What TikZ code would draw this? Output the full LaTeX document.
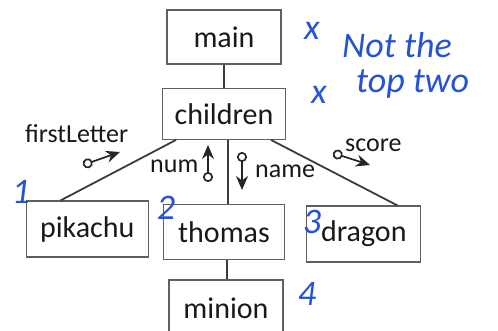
\documentclass[tikz,border=0pt]{standalone}
\usepackage{fontspec}
\setmainfont{Carlito}
\usepackage{tikz}
\usetikzlibrary{positioning}
\usetikzlibrary{arrows.meta}
\definecolor{ink}{RGB}{38,82,214}
\definecolor{edgegray}{RGB}{60,60,60}
\definecolor{boxgray}{RGB}{95,95,95}

\tikzset{
  obj/.style={draw=boxgray,line width=1.3pt,minimum width=114pt,minimum height=54pt,
    inner xsep=12pt,font=\fontsize{30}{34}\selectfont,text=black!90},
  lbl/.style={inner sep=0,anchor=base west,font=\fontsize{26}{30}\selectfont,text=black!90},
  flow/.style={line width=1.7pt,draw=black!85,{Circle[open,length=10pt,width=10pt]}-{Stealth[length=14pt,width=12pt]}},
  hand/.style={text=ink,font=\fontsize{36}{35}\selectfont\itshape}
}

\begin{document}
\begin{tikzpicture}[x=1pt,y=-1pt,node distance=20pt]
	\useasboundingbox (0,0) rectangle (498,331);
	\node[obj] (m) at (224,37) {main};
	\node[obj,minimum height=51pt] (c) [below=23pt of m] {children};
	\node[obj,minimum width=121pt,minimum height=55pt] (t) [below=64pt of c] {thomas};
	\node[obj,minimum width=122pt,minimum height=56pt] (p) [left=14pt of t,yshift=3pt] {pikachu};
	\node[obj,minimum height=56pt] (d) [right=21pt of t,yshift=-2pt] {dragon};
	\node[obj,minimum height=56pt] (mi) [below=19pt of t,xshift=2pt] {minion};
	\path[draw=edgegray,line width=1.8pt]
		(m) edge (c)
		([xshift=14pt]c.south west) edge ([xshift=35pt]p.north west)
		([xshift=4pt]c.south) edge ([xshift=4pt]t.north)
		([xshift=-15pt]c.south east) edge ([xshift=-24pt]d.north east)
		([xshift=3pt]t.south) edge ([xshift=1pt]mi.north);

	\node[lbl] (fl) at (25,143) {firstLetter};
	\node[lbl] (nu) at (150,173) {num};
	\node[lbl] (na) at (255,178) {name};
	\node[lbl] (sc) at (345,152) {score};
	\coordinate (fl0) at (83,165);  \coordinate (fl1) at (120,152);
	\coordinate (nu0) at (208,182); \coordinate (nu1) at (208,145);
	\coordinate (na0) at (242,152); \coordinate (na1) at (242,190);
	\coordinate (sc0) at (333,153); \coordinate (sc1) at (370,165);
	\draw[flow] (fl0) -- (fl1);
	\draw[flow] (nu0) -- (nu1);
	\draw[flow] (na0) -- (na1);
	\draw[flow] (sc0) -- (sc1);

	\node[hand] (x1) at (312,31) {x};
	\node[hand] (x2) at (319,95) {x};
	\node[hand,anchor=north west,align=left,inner sep=0] (note) at (342,32) {Not the\\\hspace*{14pt}top two};
	\node[hand] (k1) at (21,192) {1};
	\node[hand] (k2) at (166,208) {2};
	\node[hand] (k3) at (312,222) {3};
	\node[hand] (k4) at (307,294) {4};
\end{tikzpicture}
\end{document}
